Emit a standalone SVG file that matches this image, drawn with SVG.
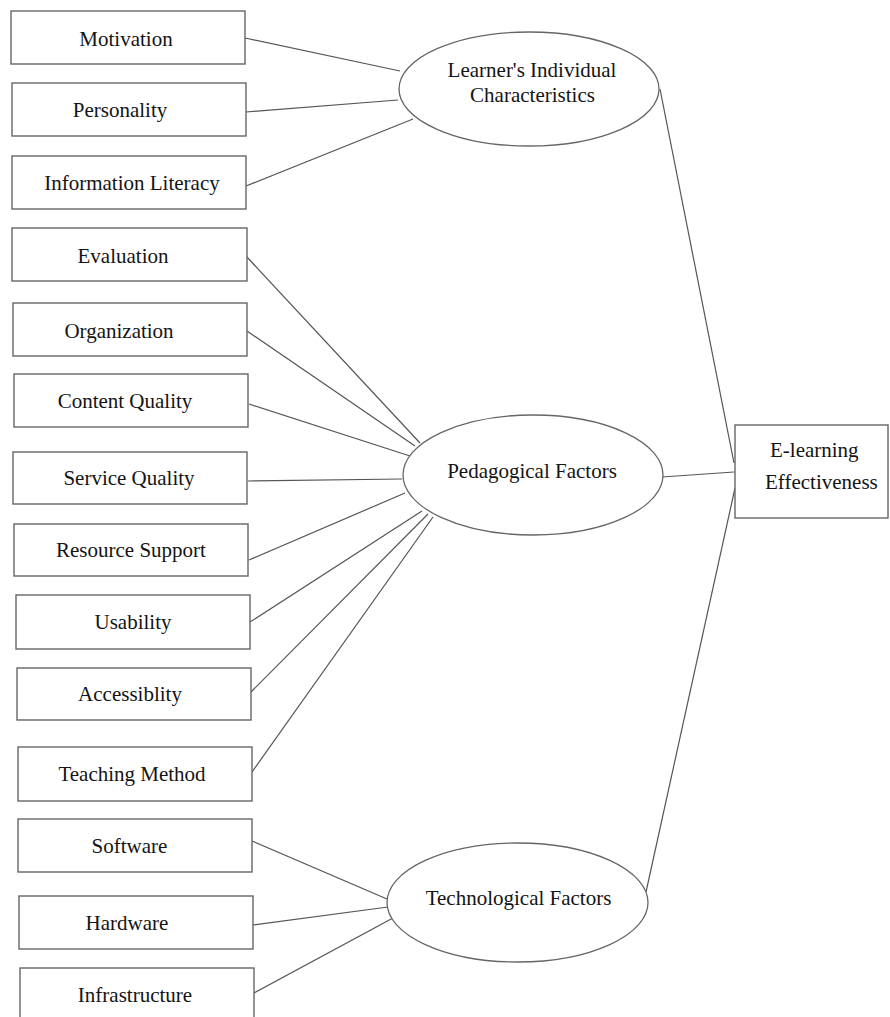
<svg xmlns="http://www.w3.org/2000/svg" width="890" height="1017" viewBox="0 0 890 1017">
<style>
.box{fill:#fff;stroke:#666;stroke-width:1.4}
.ell{fill:#fff;stroke:#666;stroke-width:1.3}
.t{font-family:"Liberation Serif","Times New Roman",serif;font-size:21px;fill:#141414;text-anchor:middle}
.tl{font-family:"Liberation Serif","Times New Roman",serif;font-size:21px;fill:#141414}
#connectors line{stroke:#555;stroke-width:1.2}
</style>
<rect width="890" height="1017" fill="#fff"/>
<g id="connectors">
<line x1="245" y1="38" x2="400" y2="71"/>
<line x1="246" y1="112" x2="398" y2="100"/>
<line x1="246" y1="186" x2="413" y2="119"/>
<line x1="246" y1="256" x2="420" y2="443"/>
<line x1="247" y1="331" x2="415" y2="446"/>
<line x1="249" y1="404" x2="410" y2="456"/>
<line x1="248" y1="481" x2="402" y2="479"/>
<line x1="249" y1="560" x2="405" y2="493"/>
<line x1="250" y1="622" x2="422" y2="511"/>
<line x1="251" y1="692" x2="428" y2="514"/>
<line x1="252" y1="772" x2="433" y2="517"/>
<line x1="252" y1="841" x2="387" y2="899"/>
<line x1="253" y1="925" x2="388" y2="907"/>
<line x1="254" y1="993" x2="393" y2="918"/>
<line x1="660" y1="89" x2="734" y2="463"/>
<line x1="662" y1="477" x2="734" y2="472"/>
<line x1="646" y1="892" x2="735" y2="488"/>
</g>
<g id="motivation"><rect class="box" x="11" y="11" width="234" height="53"/><text class="t" x="126" y="46">Motivation</text></g>
<g id="personality"><rect class="box" x="12" y="83" width="234" height="53"/><text class="t" x="120" y="117">Personality</text></g>
<g id="information-literacy"><rect class="box" x="12" y="156" width="234" height="53"/><text class="t" x="132" y="190">Information Literacy</text></g>
<g id="evaluation"><rect class="box" x="12" y="228" width="235" height="53"/><text class="t" x="123" y="263">Evaluation</text></g>
<g id="organization"><rect class="box" x="13" y="303" width="234" height="53"/><text class="t" x="119" y="338">Organization</text></g>
<g id="content-quality"><rect class="box" x="14" y="374" width="234" height="53"/><text class="t" x="125" y="408">Content Quality</text></g>
<g id="service-quality"><rect class="box" x="13" y="452" width="234" height="52"/><text class="t" x="129" y="485">Service Quality</text></g>
<g id="resource-support"><rect class="box" x="14" y="524" width="234" height="52"/><text class="t" x="131" y="557">Resource Support</text></g>
<g id="usability"><rect class="box" x="16" y="595" width="234" height="54"/><text class="t" x="133" y="629">Usability</text></g>
<g id="accessiblity"><rect class="box" x="17" y="668" width="234" height="52"/><text class="t" x="130" y="701">Accessiblity</text></g>
<g id="teaching-method"><rect class="box" x="18" y="747" width="234" height="54"/><text class="t" x="132" y="781">Teaching Method</text></g>
<g id="software"><rect class="box" x="18" y="819" width="234" height="53"/><text class="t" x="129.5" y="853">Software</text></g>
<g id="hardware"><rect class="box" x="19" y="896" width="234" height="53"/><text class="t" x="127" y="930">Hardware</text></g>
<g id="infrastructure"><rect class="box" x="20" y="968" width="234" height="60"/><text class="t" x="135" y="1002">Infrastructure</text></g>
<g id="learners-individual-characteristics"><ellipse class="ell" cx="529" cy="89" rx="130" ry="57"/><text class="t" x="532" y="77">Learner's Individual</text><text class="t" x="532.5" y="102">Characteristics</text></g>
<g id="pedagogical-factors"><ellipse class="ell" cx="533" cy="475" rx="130" ry="60"/><text class="t" x="532" y="478">Pedagogical Factors</text></g>
<g id="technological-factors"><ellipse class="ell" cx="517.5" cy="902.5" rx="130.5" ry="59.5"/><text class="t" x="518.5" y="905">Technological Factors</text></g>
<g id="e-learning-effectiveness"><rect class="box" x="735" y="425" width="153" height="93"/><text class="tl" x="770" y="457">E-learning</text><text class="tl" x="765" y="489">Effectiveness</text></g>
</svg>
